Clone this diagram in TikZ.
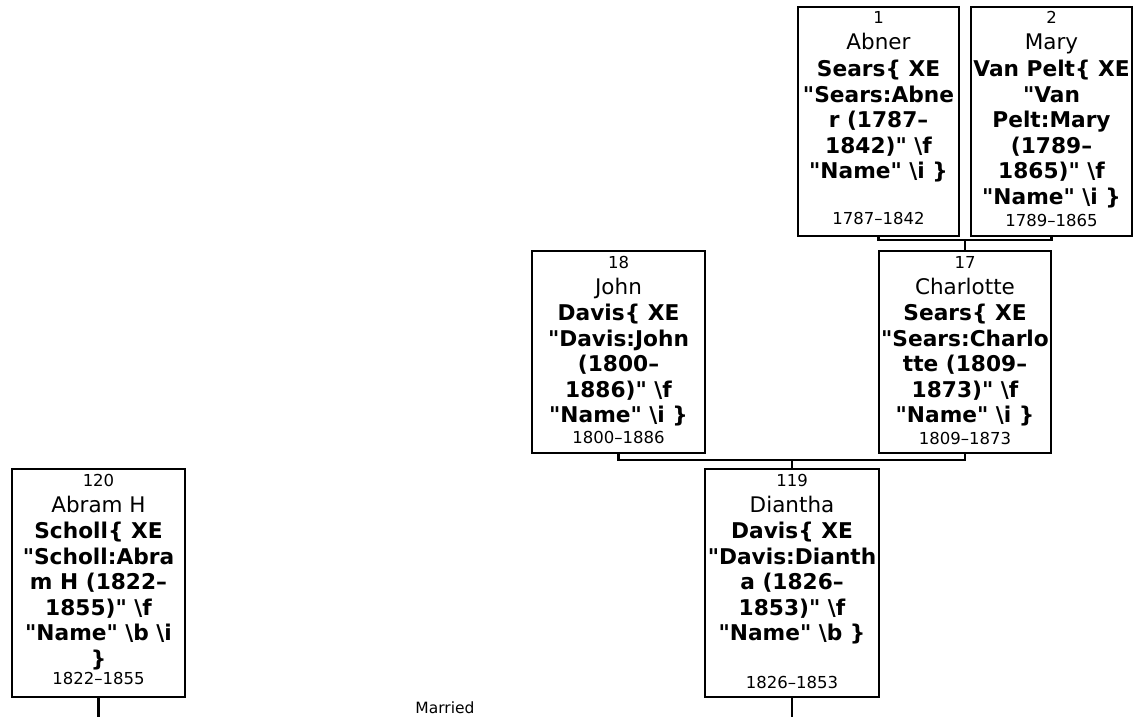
\documentclass[tikz,border=0pt]{standalone}
\usepackage{fontspec}
\setmainfont{DejaVu Sans}[Ligatures=TeXOff]
\newcommand{\bsl}{\textbackslash}
\tikzset{
  pbox/.style={draw=black, line width=2.4pt, inner sep=0pt, outer sep=0pt, rectangle},
  numtxt/.style={font=\fontsize{16.5}{19}\selectfont, inner sep=0pt, anchor=base},
  nametxt/.style={font=\fontsize{21.5}{25}\selectfont, inner sep=0pt, anchor=base},
  surtxt/.style={font=\fontsize{21.7}{25}\selectfont\bfseries, inner sep=0pt, anchor=base},
  link/.style={line width=2.4pt, draw=black},
  plain/.style={font=\fontsize{15.5}{18}\selectfont, inner sep=0pt},
}
\newcommand{\personbox}[9]{%
  \node[pbox, minimum width=#4pt, minimum height=#5pt] (#1) at (#2, {#3+#5/2}) {};
  \node[numtxt] (#1-num) at (#2, {#3+17}) {#6};
  \node[nametxt] (#1-first) at (#2, {#3+43}) {#7};
  \foreach \pline [count=\i from 0] in {#8} {
    \node[surtxt] (#1-l\i) at (#2, {#3+69.5+25.6*\i}) {\pline};
  }
  \node[numtxt] (#1-date) at (#2, {#3+#5-\doff}) {#9};
}
\begin{document}
\begin{tikzpicture}[x=1pt, y=-1pt]
\useasboundingbox[fill=white] (0,0) rectangle (1142,717);

\def\doff{12}
\personbox{abner}{878.5}{7}{161}{229}{1}{Abner}{{Sears\{ XE}, {"Sears:Abne}, {r (1787–}, {1842)" \bsl f}, {"Name" \bsl i \}}}{1787–1842}
\def\doff{10}
\personbox{mary}{1051.5}{7}{161}{229}{2}{Mary}{{Van Pelt\{ XE}, {"Van}, {Pelt:Mary}, {(1789–}, {1865)" \bsl f}, {"Name" \bsl i \}}}{1789–1865}
\def\doff{10}
\personbox{john}{618.5}{251}{173}{202}{18}{John}{{Davis\{ XE}, {"Davis:John}, {(1800–}, {1886)" \bsl f}, {"Name" \bsl i \}}}{1800–1886}
\def\doff{9}
\personbox{charlotte}{965}{251}{172}{202}{17}{Charlotte}{{Sears\{ XE}, {"Sears:Charlo}, {tte (1809–}, {1873)" \bsl f}, {"Name" \bsl i \}}}{1809–1873}
\def\doff{13}
\personbox{abram}{98.5}{469}{173}{228}{120}{Abram H}{{Scholl\{ XE}, {"Scholl:Abra}, {m H (1822–}, {1855)" \bsl f}, {"Name" \bsl b \bsl i}, {\}}}{1822–1855}
\def\doff{9}
\personbox{diantha}{792}{469}{174}{228}{119}{Diantha}{{Davis\{ XE}, {"Davis:Dianth}, {a (1826–}, {1853)" \bsl f}, {"Name" \bsl b \}}}{1826–1853}

\coordinate (amj) at (965,240);
\coordinate (jcj) at (792,460);
\coordinate (abend) at (98.5,717);
\coordinate (diend) at (792,717);

\draw[link] (abner.south) |- (amj) -| (mary.south);
\draw[link] (amj) -- (charlotte.north);
\draw[link] (john.south) |- (jcj) -| (charlotte.south);
\draw[link] (jcj) -- (diantha.north);
\draw[link] (abram.south) -- (abend);
\draw[link] (diantha.south) -- (diend);

\node[plain] (married) at (445,708) {Married};
\end{tikzpicture}
\end{document}
